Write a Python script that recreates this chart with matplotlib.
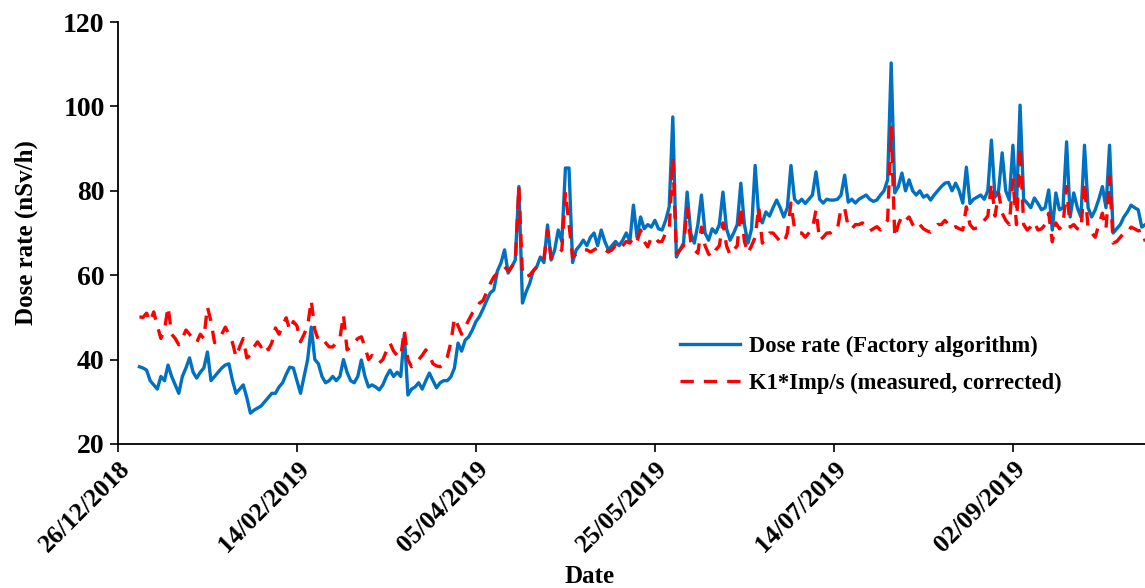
import matplotlib
matplotlib.use("Agg")
import matplotlib.pyplot as plt
import matplotlib.dates as mdates
import pandas as pd

# daily values from 01/01/2019
start_date = "2019-01-01"

dose_factory = [
    38.3, 38.0, 37.5, 35.0, 34.0, 33.0, 36.0, 35.0, 38.7, 36.0,
    34.0, 32.0, 36.0, 38.0, 40.4, 37.0, 35.6, 37.0, 38.0, 41.8,
    35.0, 36.0, 37.0, 38.0, 38.7, 39.0, 35.0, 32.0, 33.0, 34.0,
    31.0, 27.3, 28.0, 28.5, 29.0, 30.0, 31.0, 32.0, 32.0, 33.5,
    34.5, 36.5, 38.2, 38.0, 35.0, 32.0, 36.0, 40.0, 47.7, 40.0,
    39.0, 36.0, 34.5, 35.0, 36.0, 35.0, 36.0, 40.0, 37.0, 35.0,
    34.5, 36.0, 39.9, 36.0, 33.5, 34.0, 33.5, 32.8, 34.0, 36.0,
    37.5, 36.0, 37.0, 36.0, 46.0, 31.6, 33.0, 33.5, 34.5, 33.0,
    35.0, 36.8, 35.0, 33.3, 34.5, 35.0, 35.0, 35.9, 38.0, 43.9,
    42.0, 44.6, 45.4, 47.0, 49.0, 50.2, 52.0, 54.0, 55.8, 56.5,
    61.0, 62.9, 66.0, 60.5, 62.0, 63.6, 81.0, 53.4, 56.0, 58.0,
    61.0, 62.0, 64.3, 63.0, 71.9, 63.6, 66.0, 70.7, 68.0, 85.4,
    85.4, 63.0, 66.0, 67.0, 68.3, 67.0, 69.0, 70.0, 67.0, 70.7,
    68.0, 66.0, 67.0, 68.0, 67.0, 68.3, 70.0, 68.0, 76.6, 69.0,
    73.8, 71.0, 72.0, 71.4, 73.0, 71.0, 70.7, 73.0, 76.2, 97.5,
    64.3, 66.0, 67.6, 79.7, 70.0, 67.6, 72.0, 79.0, 70.0, 68.3,
    71.0, 70.0, 72.0, 79.7, 71.0, 68.3, 70.0, 72.0, 81.8, 72.0,
    67.6, 71.0, 86.0, 74.0, 72.4, 75.0, 74.0, 76.0, 77.8, 76.0,
    73.8, 76.0, 86.0, 78.0, 77.1, 78.0, 77.0, 78.0, 79.0, 84.5,
    78.0, 77.1, 78.0, 77.8, 77.8, 78.0, 79.0, 83.7, 77.3, 78.0,
    77.1, 78.0, 78.5, 79.0, 78.0, 77.5, 77.8, 79.0, 80.0, 82.6,
    110.3, 79.5, 81.0, 84.2, 80.0, 82.6, 80.0, 79.0, 80.0, 78.5,
    79.0, 77.8, 79.0, 80.0, 81.0, 81.8, 82.0, 80.0, 81.8, 80.0,
    77.1, 85.6, 77.0, 78.0, 78.5, 79.0, 78.0, 80.0, 92.0, 78.5,
    80.0, 89.0, 80.0, 77.8, 90.8, 76.2, 100.3, 78.0, 77.1, 76.0,
    78.3, 77.0, 75.5, 76.0, 80.2, 70.7, 79.5, 75.5, 76.0, 91.6,
    73.8, 79.5, 76.0, 73.8, 90.8, 76.0, 73.8, 75.5, 78.0, 81.0,
    76.0, 90.8, 70.0, 71.0, 72.0, 73.8, 75.0, 76.6, 76.0, 75.5,
    71.4, 72.0,
]

k1_imp = [
    50.1, 50.0, 51.0, 49.0, 51.3, 48.0, 45.0, 47.0, 52.5, 46.0,
    45.0, 43.5, 45.0, 47.0, 46.0, 45.0, 44.0, 46.0, 45.0, 52.5,
    49.0, 44.0, 45.0, 46.0, 47.7, 46.0, 44.0, 40.6, 43.0, 45.0,
    40.4, 41.0, 43.0, 44.2, 43.0, 44.0, 42.3, 44.0, 47.5, 46.0,
    48.0, 49.9, 47.0, 49.0, 48.0, 44.2, 46.0, 48.0, 54.0, 47.0,
    44.6, 45.0, 44.0, 43.0, 43.0, 44.0, 45.0, 50.6, 42.3, 43.0,
    44.0, 45.0, 45.4, 43.0, 40.0, 41.0, 40.0, 39.2, 40.0, 42.0,
    43.9, 42.0, 41.0, 40.6, 47.0, 40.0, 38.3, 39.0, 40.0, 41.0,
    42.3, 41.0, 39.0, 38.5, 38.3, 39.0, 40.6, 44.0, 49.9, 48.0,
    46.0, 47.7, 49.4, 51.0, 52.0, 53.4, 54.0, 56.0, 58.0, 59.6,
    60.5, 61.2, 62.0, 61.0, 62.0, 63.0, 81.0, 60.0, 59.6, 60.0,
    61.0, 62.0, 63.0, 64.0, 70.7, 64.0, 64.3, 65.0, 66.0, 79.7,
    72.0, 64.3, 65.0, 65.5, 66.0, 66.0, 65.5, 66.0, 66.5, 66.0,
    66.0, 65.5, 66.0, 67.0, 66.0, 67.0, 68.0, 67.6, 69.0, 68.0,
    70.7, 68.0, 66.7, 69.0, 69.0, 67.9, 68.0, 70.0, 70.7, 87.8,
    65.2, 66.0, 67.0, 75.9, 68.0, 66.0, 65.2, 71.4, 67.0, 65.0,
    64.3, 66.0, 67.0, 72.4, 67.0, 64.8, 66.0, 67.0, 76.2, 68.0,
    65.2, 67.0, 69.0, 76.2, 67.6, 69.0, 70.0, 70.0, 69.0, 68.0,
    67.6, 70.0, 77.1, 71.0, 70.0, 70.0, 69.0, 70.0, 71.0, 75.5,
    68.3, 69.0, 70.0, 70.0, 71.0, 71.0, 75.9, 75.9, 71.4, 71.0,
    72.0, 72.0, 72.4, 71.0, 70.5, 71.0, 71.5, 70.7, 72.0, 73.0,
    95.0, 69.0, 72.0, 74.0, 73.0, 73.8, 72.0, 71.0, 72.0, 71.0,
    70.5, 70.2, 71.0, 72.0, 72.0, 73.0, 72.0, 71.0, 71.5, 71.0,
    70.7, 76.2, 72.0, 71.0, 71.2, 72.0, 73.0, 74.0, 81.8, 74.0,
    79.5, 74.7, 73.0, 72.0, 82.6, 72.0, 90.4, 72.0, 70.7, 71.5,
    72.6, 70.7, 71.0, 72.0, 74.7, 67.9, 72.4, 71.0, 72.0, 81.0,
    71.4, 72.0, 71.0, 70.7, 82.0, 71.0, 70.0, 69.0, 72.0, 74.7,
    71.0, 83.3, 67.6, 68.0, 69.0, 70.0, 70.0, 71.4, 71.0, 70.5,
    70.7, 68.0,
]

tick_dates = ["2018-12-26", "2019-02-14", "2019-04-05", "2019-05-25",
              "2019-07-14", "2019-09-02"]

BLUE = "#0070C0"
RED = "#FF0000"

plt.rcParams["font.family"] = ["Liberation Serif", "DejaVu Serif"]
plt.rcParams["font.weight"] = "bold"

dates = pd.date_range(start_date, periods=len(dose_factory), freq="D")

fig = plt.figure(figsize=(11.45, 5.88), dpi=100)
ax = fig.add_axes([0.103, 0.245, 0.897, 0.7175])

ax.plot(dates, dose_factory, color=BLUE, lw=2.4,
        label="Dose rate (Factory algorithm)", zorder=2)
ax.plot(dates, k1_imp, color=RED, lw=2.4, dashes=(4, 3),
        label="K1*Imp/s (measured, corrected)", zorder=3)

x0 = mdates.date2num(pd.Timestamp("2018-12-26"))
ax.set_xlim(x0, x0 + 286.9)
ax.set_ylim(20, 120)
ax.set_yticks(range(20, 121, 20))
ax.set_xticks([pd.Timestamp(d) for d in tick_dates])
ax.xaxis.set_major_formatter(mdates.DateFormatter("%d/%m/%Y"))

for s in ["top", "right"]:
    ax.spines[s].set_visible(False)
for s in ["left", "bottom"]:
    ax.spines[s].set_linewidth(1.3)

ax.tick_params(axis="both", direction="out", length=6, width=1.2)
ax.tick_params(axis="y", labelsize=20)
ax.tick_params(axis="x", labelsize=18.5)
plt.setp(ax.get_xticklabels(), rotation=45, ha="right",
         rotation_mode="anchor", fontweight="bold")
plt.setp(ax.get_yticklabels(), fontweight="bold")

ax.set_ylabel("Dose rate (nSv/h)", fontsize=18, fontweight="bold", labelpad=18)
ax.set_xlabel("Date", fontsize=18, fontweight="bold")
ax.xaxis.set_label_coords(0.459, -0.288)

leg = ax.legend(loc="upper left", bbox_to_anchor=(0.527, 0.305), frameon=False,
                fontsize=16.3, handlelength=2.65, handletextpad=0.4,
                labelspacing=0.7)
for t in leg.get_texts():
    t.set_fontweight("bold")

fig.savefig("out.png", dpi=100)
